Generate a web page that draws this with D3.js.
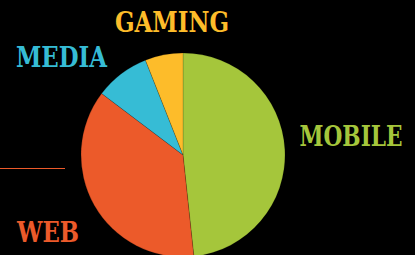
<!DOCTYPE html>
<html lang="en">
<head>
  <meta charset="UTF-8">
  <title>Platform Share</title>
  <script src="https://d3js.org/d3.v7.min.js"></script>
  <style>
    html, body {
      margin: 0;
      padding: 0;
      background: #000;
    }
    .label {
      font-family: "DejaVu Serif Condensed", "DejaVu Serif", serif;
      font-weight: bold;
      font-size: 27px;
      text-anchor: middle;
    }
  </style>
</head>
<body>
  <svg id="chart"></svg>
  <script>
    const categories = ["MOBILE", "WEB", "MEDIA", "GAMING"];
    const values = [48.3, 37, 8.7, 6];
    const colors = ["#a5c63b", "#ec5a2a", "#36bcd5", "#fdbc2a"];

    const width = 415;
    const height = 255;
    const cx = 183, cy = 155, radius = 102;

    // label spots (center x, baseline y, text width)
    const labelSpots = {
      MOBILE: [351, 146, 103],
      WEB: [48, 242, 62],
      MEDIA: [61.5, 67, 91],
      GAMING: [172, 32, 114]
    };

    const svg = d3.select("#chart")
      .attr("width", width)
      .attr("height", height)
      .style("display", "block");

    const data = categories.map((c, i) => ({ name: c, value: values[i], color: colors[i] }));

    const pie = d3.pie().sort(null).value(d => d.value);
    const arc = d3.arc().innerRadius(0).outerRadius(radius);

    const g = svg.append("g").attr("transform", `translate(${cx},${cy})`);

    g.selectAll("path")
      .data(pie(data))
      .join("path")
        .attr("d", arc)
        .attr("fill", d => d.data.color)
        .attr("stroke", "rgba(0,0,0,0.25)")
        .attr("stroke-width", 0.6);

    svg.selectAll(".label")
      .data(data)
      .join("text")
        .attr("class", "label")
        .attr("x", d => labelSpots[d.name][0])
        .attr("y", d => labelSpots[d.name][1])
        .attr("textLength", d => labelSpots[d.name][2])
        .attr("lengthAdjust", "spacingAndGlyphs")
        .attr("fill", d => d.color)
        .text(d => d.name);

    // leader stub on the left
    svg.append("line")
      .attr("x1", 0).attr("x2", 65)
      .attr("y1", 168.5).attr("y2", 168.5)
      .attr("stroke", colors[1])
      .attr("stroke-width", 1);
  </script>
</body>
</html>
